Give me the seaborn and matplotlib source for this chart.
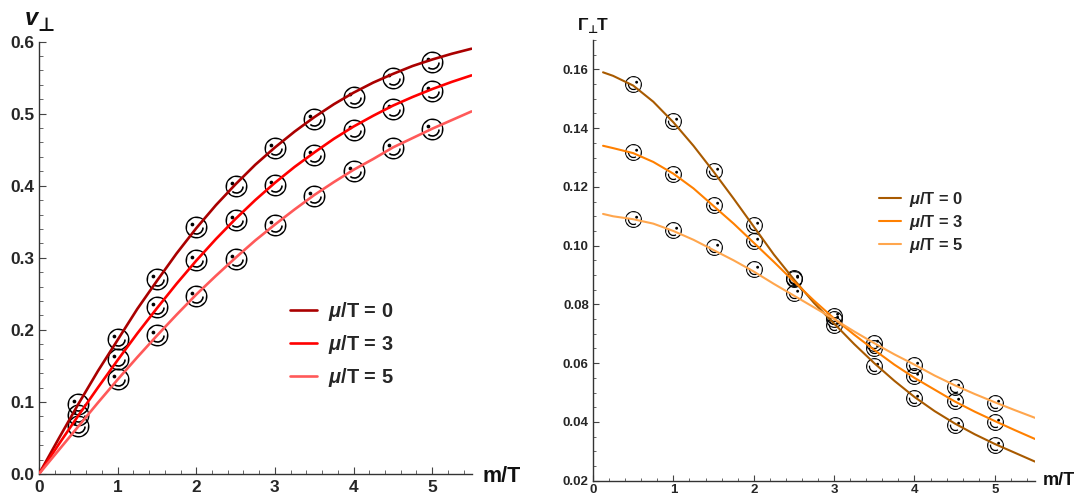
import numpy as np
import pandas as pd
import seaborn as sns
import matplotlib.pyplot as plt
from matplotlib.path import Path
from matplotlib.ticker import MultipleLocator, FormatStrFormatter

sns.set_style('white')
plt.rcParams['font.family'] = ['Liberation Sans', 'DejaVu Sans']
plt.rcParams['font.weight'] = 'bold'
plt.rcParams['mathtext.fontset'] = 'custom'
plt.rcParams['mathtext.rm'] = 'Liberation Sans:bold'
plt.rcParams['mathtext.it'] = 'Liberation Sans:italic:bold'
plt.rcParams['mathtext.bf'] = 'Liberation Sans:bold'

# data
mass_points = [0.5, 1, 1.5, 2, 2.5, 3, 3.5, 4, 4.5, 5]
labels = ['$\\mathit{\\mu}$/T = 0', '$\\mathit{\\mu}$/T = 3', '$\\mathit{\\mu}$/T = 5']

v_pts_0 = [.097, .187, .270, .342, .400, .452, .492, .523, .550, .572]
v_pts_3 = [.082, .160, .232, .297, .353, .401, .443, .477, .507, .532]
v_pts_5 = [.066, .132, .193, .247, .298, .345, .385, .420, .452, .478]

v_x = [0, .25, .5, .75, 1, 1.25, 1.5, 1.75, 2, 2.25, 2.5, 2.75, 3, 3.25, 3.5, 3.75, 4, 4.25, 4.5, 4.75, 5, 5.25, 5.5]
v_line_0 = [0, .049, .097, .143, .186, .229, .268, .306, .341, .373, .402, .429, .453, .475, .495, .513, .529, .543, .555, .566, .575, .583, .590]
v_line_3 = [0, .041, .081, .120, .158, .195, .230, .264, .296, .326, .354, .380, .404, .426, .446, .465, .482, .497, .511, .523, .534, .544, .553]
v_line_5 = [0, .033, .066, .099, .131, .162, .192, .221, .249, .275, .300, .324, .346, .367, .387, .405, .422, .437, .453, .466, .479, .491, .503]

g_pts_0 = [.155, .1425, .1255, .107, .089, .073, .059, .048, .039, .032]
g_pts_3 = [.132, .1245, .114, .1015, .0885, .075, .065, .0555, .047, .040]
g_pts_5 = [.109, .1055, .0995, .092, .084, .076, .067, .0595, .052, .0465]

g_x = [.125, .25, .5, .75, 1, 1.25, 1.5, 1.75, 2, 2.25, 2.5, 2.75, 3, 3.25, 3.5, 3.75, 4, 4.25, 4.5, 4.75, 5, 5.25, 5.5]
g_line_0 = [.159, .1578, .1545, .149, .142, .134, .1252, .116, .1065, .097, .0885, .0805, .0735, .0665, .0600, .0540, .0485, .0437, .0395, .0358, .0325, .0295, .0265]
g_line_3 = [.134, .1332, .1315, .1285, .1245, .1195, .1135, .1075, .101, .0945, .0878, .0813, .0752, .0697, .0645, .0595, .055, .051, .047, .0435, .0403, .0372, .0342]
g_line_5 = [.1108, .110, .109, .1075, .105, .102, .0985, .095, .0912, .087, .083, .079, .075, .0708, .0668, .063, .0595, .0558, .0525, .0495, .0467, .044, .0414]

reds = ['#AA0000', '#FF0000', '#FF5959']
oranges = ['#A85A00', '#FF8000', '#FFA64D']


# smiley: ring, one eye, smile (marker shape only)
def smiley(eye_x, smile_from, smile_to):
    ring_o = Path.circle((0, 0), 1.0)
    ring_i = Path.circle((0, 0), 0.86)
    ring_i = Path(ring_i.vertices[::-1], ring_i.codes)
    eye = Path.circle((eye_x, 0.27), 0.17)
    arc = Path.arc(smile_from, smile_to)
    outer = arc.vertices * 0.66
    inner = arc.vertices[::-1] * 0.51
    smile = Path(np.vstack([outer, inner, outer[:1]]), closed=True)
    return Path.make_compound_path(ring_o, ring_i, eye, smile)


def make_long(x, lines):
    return pd.DataFrame({'x': list(x) * 3,
                         'y': lines[0] + lines[1] + lines[2],
                         'series': [l for l in labels for _ in x]})


def style_axes(ax, size, tick_len, ymaj, ymin, xpad):
    sns.despine(ax=ax)
    for s in ['left', 'bottom']:
        ax.spines[s].set_color('#333333')
        ax.spines[s].set_linewidth(1.0)
    ax.xaxis.set_major_locator(MultipleLocator(1))
    ax.xaxis.set_minor_locator(MultipleLocator(0.2))
    ax.yaxis.set_major_locator(MultipleLocator(ymaj))
    ax.yaxis.set_minor_locator(MultipleLocator(ymin))
    ax.tick_params(which='major', direction='in', bottom=True, left=True, length=tick_len,
                   width=0.8, color='#444444', labelsize=size, pad=3)
    ax.tick_params(axis='x', which='major', pad=xpad)
    ax.tick_params(which='minor', direction='in', bottom=True, left=True, length=tick_len * 0.55,
                   width=0.7, color='#666666')
    ax.xaxis.set_major_formatter(FormatStrFormatter('%d'))
    ax.set_xlabel('')
    ax.set_ylabel('')


W, H = 1075, 496
fig = plt.figure(figsize=(W / 100, H / 100), dpi=100, facecolor='white')

# left panel
ax1 = fig.add_axes([39 / W, 1 - 474 / H, (471.5 - 39) / W, (474 - 41.5) / H])
sns.lineplot(data=make_long(v_x, [v_line_0, v_line_3, v_line_5]), x='x', y='y', hue='series',
             palette=reds, linewidth=1.9, estimator=None, sort=False, ax=ax1, zorder=3)
face_l = smiley(-0.37, 230, 360)
for pts in [v_pts_0, v_pts_3, v_pts_5]:
    sns.scatterplot(x=mass_points, y=pts, marker=face_l, s=250, color='black', linewidth=0,
                    legend=False, ax=ax1, zorder=2)
ax1.set_xlim(0, 5.5)
ax1.set_ylim(0, 0.6)
style_axes(ax1, 12.4, 5, 0.1, 0.02, 4.5)
ax1.yaxis.set_major_formatter(FormatStrFormatter('%.1f'))
leg = ax1.legend(loc='center left', bbox_to_anchor=(0.539, 0.30), frameon=False, fontsize=14.4,
                 handlelength=1.35, labelspacing=0.51, handletextpad=0.55)
fig.text(25 / W, 1 - 25 / H, 'v', fontsize=17, style='italic', fontweight='bold', ha='left', va='baseline', color='#111111')
fig.text(37 / W, 1 - 31 / H, '\u22a5', fontsize=13.5, fontweight='bold', family='DejaVu Sans', ha='left', va='baseline', color='#111111')
fig.text(483 / W, 1 - 481.5 / H, 'm/T', fontsize=15.5, ha='left', va='baseline', color='#111111')

# right panel
ax2 = fig.add_axes([593 / W, 1 - 480.7 / H, (1035 - 593) / W, (480.7 - 40) / H])
sns.lineplot(data=make_long(g_x, [g_line_0, g_line_3, g_line_5]), x='x', y='y', hue='series',
             palette=oranges, linewidth=1.5, estimator=None, sort=False, ax=ax2, zorder=3)
face_r = smiley(0.37, 170, 300)
for pts in [g_pts_0, g_pts_3, g_pts_5]:
    sns.scatterplot(x=mass_points, y=pts, marker=face_r, s=148, color='black', linewidth=0,
                    legend=False, ax=ax2, zorder=2)
ax2.set_xlim(0, 5.5)
ax2.set_ylim(0.02, 0.17)
style_axes(ax2, 9.5, 4, 0.02, 0.005, 2.5)
ax2.yaxis.set_major_formatter(FormatStrFormatter('%.2f'))
leg2 = ax2.legend(loc='center left', bbox_to_anchor=(0.614, 0.586), frameon=False, fontsize=11.9,
                  handlelength=1.33, labelspacing=0.24, handletextpad=0.48)
fig.text(578 / W, 1 - 30 / H, '\u0393', fontsize=12.5, ha='left', va='baseline', color='#111111')
fig.text(587 / W, 1 - 33 / H, '\u22a5', fontsize=8, family='DejaVu Sans', fontweight='bold', ha='left', va='baseline', color='#111111')
fig.text(597 / W, 1 - 30 / H, 'T', fontsize=12.5, ha='left', va='baseline', color='#111111')
fig.text(1043 / W, 1 - 485 / H, 'm/T', fontsize=13, ha='left', va='baseline', color='#111111')

plt.savefig('out.png', dpi=100)
